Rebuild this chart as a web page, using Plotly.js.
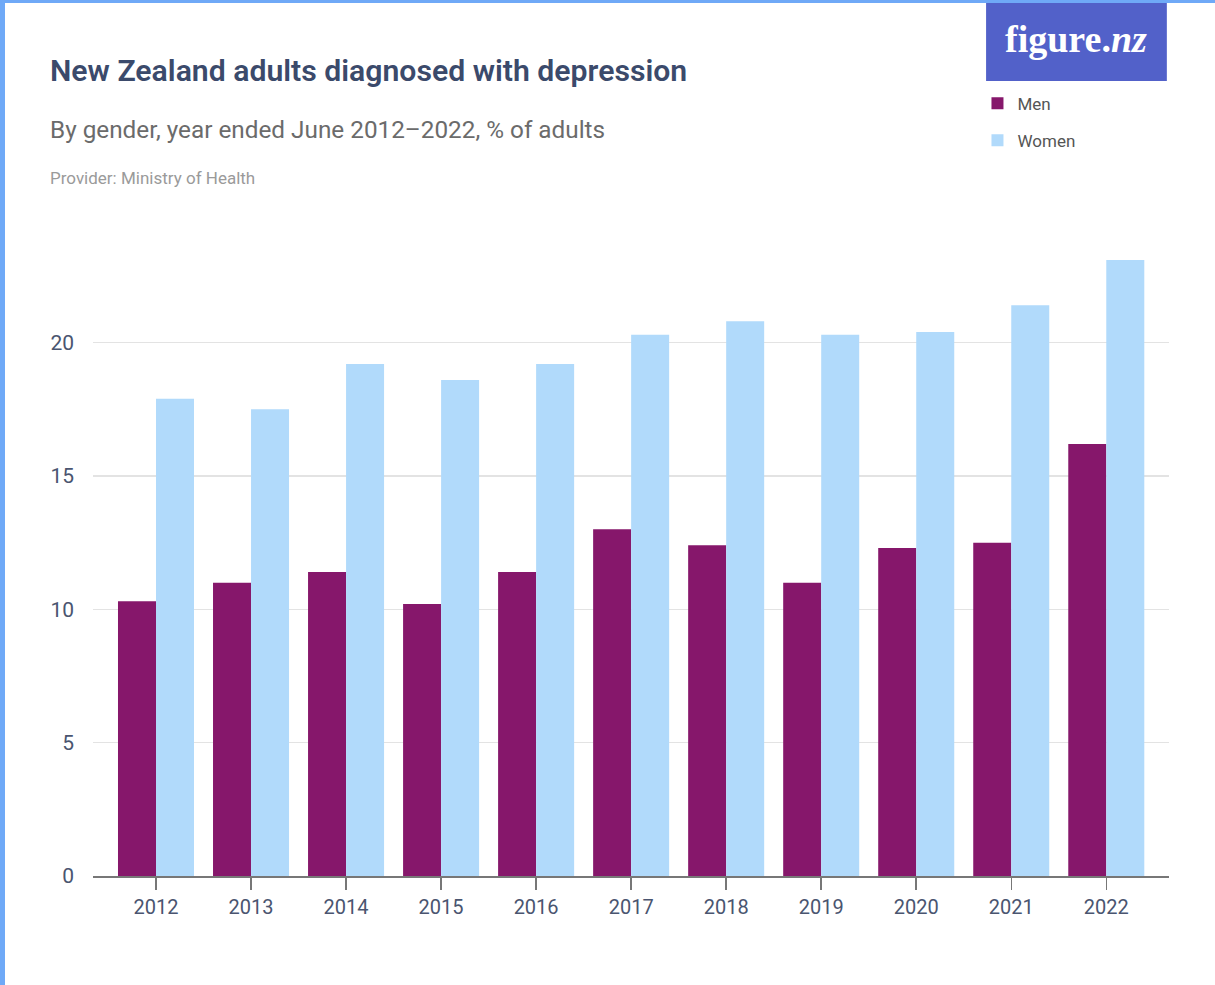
<!DOCTYPE html>
<html>
<head>
<meta charset="utf-8">
<script src="https://cdn.plot.ly/plotly-3.0.1.min.js"></script>
<style>
html,body{margin:0;padding:0;background:#fff;}
#chart{width:1215px;height:985px;position:absolute;left:0;top:0;}
#frame{position:absolute;left:0;top:0;width:1215px;height:985px;box-sizing:border-box;border-left:5px solid #6fa9f7;border-top:3px solid #6fa9f7;pointer-events:none;}
</style>
</head>
<body>
<div id="chart"></div>
<div id="frame"></div>
<script>
const years = ['2012','2013','2014','2015','2016','2017','2018','2019','2020','2021','2022'];
const men = [10.3, 11.0, 11.4, 10.2, 11.4, 13.0, 12.4, 11.0, 12.3, 12.5, 16.2];
const women = [17.9, 17.5, 19.2, 18.6, 19.2, 20.3, 20.8, 20.3, 20.4, 21.4, 23.1];
const yTicks = [0, 5, 10, 15, 20];

const FONT = '"Roboto", "Noto Sans", sans-serif';

const traces = [
  {type:'bar', name:'Men', legendgroup:'m', x:years, y:men, marker:{color:'#86176b'}, hoverinfo:'y'},
  {type:'bar', name:'Women', legendgroup:'w', x:years, y:women, marker:{color:'#b1dafb'}, hoverinfo:'y'}
];

const layout = {
  width:1215, height:985,
  margin:{l:93, r:46, t:236, b:109},
  paper_bgcolor:'#ffffff', plot_bgcolor:'#ffffff',
  font:{family:FONT, color:'#4a5570'},
  barmode:'group', bargap:0.2, bargroupgap:0,
  showlegend:true,
  legend:{x:0.822, xanchor:'left', y:1.235, yanchor:'top', traceorder:'grouped', tracegroupgap:12,
    font:{size:17, color:'#555555', family:FONT}, bgcolor:'rgba(0,0,0,0)', itemwidth:30},
  xaxis:{type:'category', range:[-0.663, 10.66], showgrid:false, showline:true, linecolor:'#777777', linewidth:1.5,
    ticks:'outside', ticklen:12, tickwidth:1.5, tickcolor:'#777777', tickfont:{size:20, color:'#4a5570', family:FONT}, fixedrange:true},
  yaxis:{range:[0,24], tickvals:yTicks, ticktext:yTicks.map(String), showgrid:true, gridcolor:'#e3e3e3', gridwidth:1.5,
    zeroline:false, showline:false, ticks:'', ticklabelstandoff:18, tickfont:{size:21, color:'#4a5570', family:FONT}, fixedrange:true},
  shapes:[
    {type:'rect', xref:'paper', yref:'paper', x0:0.830, x1:0.998, y0:1.242, y1:1.37, fillcolor:'#5261c9', line:{width:0}, layer:'above'}
  ],
  annotations:[
    {text:'New Zealand adults diagnosed with depression', xref:'paper', yref:'paper', x:-0.042, y:1.259, xanchor:'left', yanchor:'middle', showarrow:false,
      font:{size:30.2, color:'#3b4a6b', family:FONT, weight:600}},
    {text:'By gender, year ended June 2012–2022, % of adults', xref:'paper', yref:'paper', x:-0.042, y:1.166, xanchor:'left', yanchor:'middle', showarrow:false,
      font:{size:24.3, color:'#6b6b6b', family:FONT}},
    {text:'Provider: Ministry of Health', xref:'paper', yref:'paper', x:-0.042, y:1.090, xanchor:'left', yanchor:'middle', showarrow:false,
      font:{size:17, color:'#9a9a9a', family:FONT}},
    {text:'figure.<i>nz</i>', xref:'paper', yref:'paper', x:0.914, y:1.308, xanchor:'center', yanchor:'middle', showarrow:false,
      font:{size:38, color:'#ffffff', family:'"Liberation Serif", "DejaVu Serif", serif', weight:'bold'}}
  ]
};

Plotly.newPlot('chart', traces, layout, {displayModeBar:false, staticPlot:true});
</script>
</body>
</html>
